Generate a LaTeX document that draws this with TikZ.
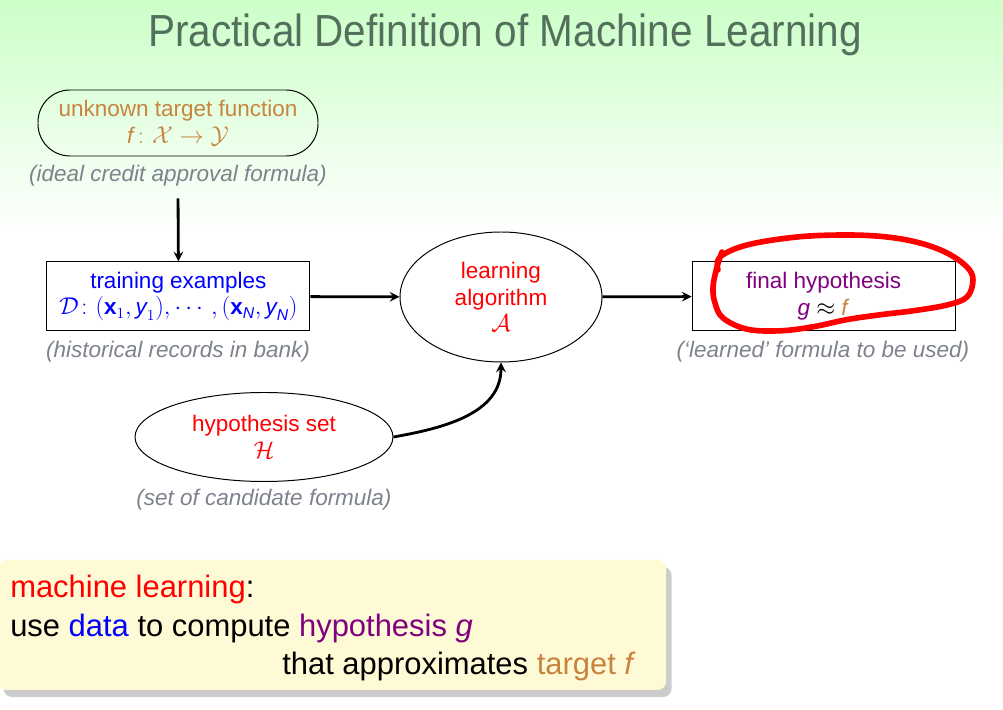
\documentclass[tikz,border=0pt]{standalone}
\usepackage{amsmath}
\usepackage{graphicx}
\usepackage{fontspec}
\setmainfont{Liberation Sans}
\usetikzlibrary{shapes.geometric,shadows,positioning}

\definecolor{titlegreen}{RGB}{84,112,92}
\definecolor{targetorange}{RGB}{200,132,62}
\definecolor{notegray}{RGB}{125,130,140}
\definecolor{hypopurple}{RGB}{128,0,128}
\definecolor{notebg}{RGB}{255,250,214}
\definecolor{slidegreen}{RGB}{204,255,200}

\tikzset{
  boxtext/.style={align=center, font=\fontsize{16}{19}\selectfont, inner sep=2pt, line width=0.7pt},
  note/.style={font=\fontsize{16}{19}\selectfont\itshape, text=notegray},
  flow/.style={-stealth, line width=2pt},
  bigtext/.style={font=\fontsize{22}{27}\selectfont, inner sep=0pt},
}

\begin{document}
\begin{tikzpicture}
    %slide background and title
        \useasboundingbox (0,0) rectangle (25.075,17.75);
        \shade[top color=slidegreen, bottom color=white] (0,17.75) rectangle (25.075,11.8);
        \node[anchor=base, text=titlegreen, font=\fontsize{32}{36}\selectfont] (title) at (12.625,16.575) {\scalebox{0.9}[1]{Practical Definition of Machine Learning}};

    %boxes with their notes
        \node[boxtext, draw, rounded corners=0.8cm, minimum width=7cm, minimum height=1.65cm, text=targetorange] (target) at (4.45,14.675) {unknown target function\\ \textit{f}$\colon \mathcal{X} \to \mathcal{Y}$};
        \node[note] (targetnote) at (4.45,13.35) {(ideal credit approval formula)};

        \node[boxtext, draw, minimum width=6.575cm, minimum height=1.725cm, text=blue] (train) at (4.46,10.34) {training examples\\ $\mathcal{D}\colon (\textbf{x}_1, \textit{y}_1), \cdots, (\textbf{x}_{\textit{N}}, \textit{y}_{\textit{N}})$};
        \node[note] (trainnote) at (4.45,8.95) {(historical records in bank)};

        \node[boxtext, draw, ellipse, minimum width=5.05cm, minimum height=3.25cm, inner sep=0pt, text=red] (alg) at (12.525,10.325) {learning\\ algorithm\\ $\mathcal{A}$};

        \node[boxtext, draw, minimum width=6.575cm, minimum height=1.725cm, text=hypopurple] (final) at (20.59,10.34) {final hypothesis\\ \textit{g} \textcolor{black}{$\approx$} \textcolor{targetorange}{\textit{f}}};
        \node[note] (finalnote) at (20.575,8.95) {(`learned' formula to be used)};

        \node[boxtext, draw, ellipse, minimum width=6.45cm, minimum height=2.225cm, inner sep=0pt, text=red] (hyp) at (6.6,6.825) {hypothesis set\\ $\mathcal{H}$};
        \node[note] (hypnote) at (6.6,5.25) {(set of candidate formula)};

    %arrows
        \draw[flow, shorten <=5pt] (targetnote.south) -- (train.north);
        \draw[flow] (train) -- (alg);
        \draw[flow] (alg) -- (final);
        \draw[flow] (hyp.east) to[out=10, in=-90] (alg.south);

    %hand drawn loop round the result
        \draw[red, line width=4pt, line cap=round, line join=round] plot[smooth, tension=0.6] coordinates {
            (17.95,11.0) (18.0,11.325) (18.675,11.625) (19.925,11.825) (21.175,11.875) (22.175,11.825)
            (23.0,11.675) (23.675,11.425) (24.175,11.075) (24.325,10.75) (24.175,10.325) (23.675,10.125)
            (22.825,9.98) (22.0,9.88) (21.175,9.76) (20.325,9.58) (19.5,9.48) (18.675,9.52)
            (18.075,9.8) (17.875,10.175) (17.825,10.575) (17.925,11.075) (18.05,11.45)};

    %summary box
        \node[fill=notebg, rounded corners=6pt, minimum width=16.7cm, minimum height=3.25cm,
              drop shadow={shadow xshift=4pt, shadow yshift=-5pt, opacity=0.4}] (mlbox) at (8.3,2.125) {};
        \node[bigtext, anchor=base west] (mlhead) at (0.25,2.8) {\textcolor{red}{machine learning}:};
        \node[bigtext, anchor=base west] (mlline) at (0.25,1.825) {use \textcolor{blue}{data} to compute \textcolor{hypopurple}{hypothesis \textit{g}}};
        \node[bigtext, anchor=base east] (mltail) at (15.9,0.875) {that approximates \textcolor{targetorange}{target \textit{f}}};
\end{tikzpicture}
\end{document}
